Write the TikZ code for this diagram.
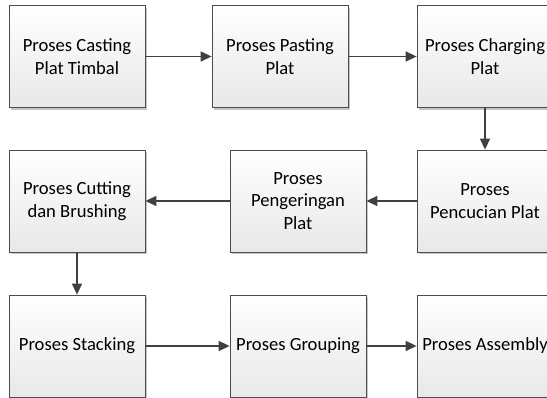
\documentclass[tikz,border=0pt]{standalone}
\usepackage{fontspec}
\setmainfont{Carlito}
\usetikzlibrary{arrows.meta,shadows}

\begin{document}
\begin{tikzpicture}[x=1pt,y=1pt,
  procbox/.style={draw=black!70, line width=0.8pt,
    top color=white, bottom color=black!9,
    drop shadow={shadow xshift=2.2pt, shadow yshift=-2.2pt, fill=black!22, opacity=1},
    minimum width=136pt, minimum height=102pt, inner sep=0pt,
    align=center, font=\fontsize{18.6}{22.5}\selectfont, text=black},
  flow/.style={draw=black!75, line width=1.4pt,
    -{Triangle[length=11pt,width=10pt]}}]
  \useasboundingbox (0,0) rectangle (547,-398);
  \clip (0,0) rectangle (547,-398);

  % row 1
  \node[procbox] (cast)   at (77,-56.5)  {Proses Casting\\Plat Timbal};
  \node[procbox] (paste)  at (280,-56.5) {Proses Pasting\\Plat};
  \node[procbox] (charge) at (485,-56.5) {Proses Charging\\Plat};
  % row 2
  \node[procbox] (cut)    at (77,-201)   {Proses Cutting\\dan Brushing};
  \node[procbox] (dry)    at (298,-201)  {Proses\\Pengeringan\\Plat};
  \node[procbox] (wash)   at (485,-201)  {Proses\\Pencucian Plat};
  % row 3
  \node[procbox] (stack)  at (77,-346)   {Proses Stacking};
  \node[procbox] (group)  at (298,-346)  {Proses Grouping};
  \node[procbox] (assy)   at (485,-346)  {Proses Assembly};

  \draw[flow] (cast) -- (paste);
  \draw[flow] (paste) -- (charge);
  \draw[flow] (charge) -- (wash);
  \draw[flow] (wash) -- (dry);
  \draw[flow] (dry) -- (cut);
  \draw[flow] (cut) -- (stack);
  \draw[flow] (stack) -- (group);
  \draw[flow] (group) -- (assy);
\end{tikzpicture}
\end{document}
